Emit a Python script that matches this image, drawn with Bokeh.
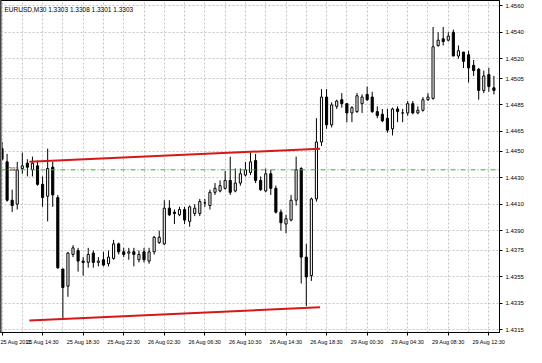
from bokeh.plotting import figure
from bokeh.models import FixedTicker, Span, Label, NumeralTickFormatter, Range1d, ColumnDataSource
from bokeh.embed import file_html
from bokeh.resources import INLINE

# ---------------- data (EURUSD M30) ----------------
open_ = [1.4452, 1.4442, 1.4413, 1.4410, 1.4437, 1.4441, 1.4436, 1.4439, 1.4425, 1.4416,
         1.4438, 1.4415, 1.4361, 1.4348, 1.4372, 1.4375, 1.4367, 1.4366, 1.4373, 1.4366,
         1.4368, 1.4365, 1.4369, 1.4380, 1.4374, 1.4373, 1.4374, 1.4368, 1.4374, 1.4367,
         1.4374, 1.4381, 1.4380, 1.4407, 1.4404, 1.4402, 1.4406, 1.4397, 1.4403, 1.4403,
         1.4411, 1.4409, 1.4419, 1.4420, 1.4422, 1.4428, 1.4420, 1.4426, 1.4432, 1.4434,
         1.4443, 1.4428, 1.4420, 1.4433, 1.4422, 1.4404, 1.4395, 1.4398, 1.4413, 1.4437,
         1.4370, 1.4356, 1.4414, 1.4457, 1.4491, 1.4470, 1.4484, 1.4489, 1.4486, 1.4479,
         1.4480, 1.4486, 1.4493, 1.4491, 1.4480, 1.4478, 1.4475, 1.4467, 1.4482, 1.4479,
         1.4479, 1.4486, 1.4479, 1.4481, 1.4489, 1.4490, 1.4530, 1.4535, 1.4534, 1.4540,
         1.4522, 1.4525, 1.4523, 1.4515, 1.4512, 1.4496, 1.4508, 1.4498]
high = [1.4457, 1.4448, 1.4421, 1.4442, 1.4449, 1.4444, 1.4446, 1.4443, 1.4431, 1.4452,
        1.4442, 1.4417, 1.4361, 1.4374, 1.4379, 1.4377, 1.4370, 1.4377, 1.4375, 1.4370,
        1.4374, 1.4375, 1.4383, 1.4381, 1.4377, 1.4377, 1.4377, 1.4375, 1.4377, 1.4377,
        1.4386, 1.4390, 1.4413, 1.4413, 1.4406, 1.4408, 1.4408, 1.4409, 1.4410, 1.4414,
        1.4414, 1.4421, 1.4426, 1.4428, 1.4435, 1.4446, 1.4437, 1.4437, 1.4442, 1.4449,
        1.4448, 1.4431, 1.4437, 1.4436, 1.4424, 1.4406, 1.4402, 1.4417, 1.4446, 1.4438,
        1.4380, 1.4415, 1.4475, 1.4497, 1.4497, 1.4487, 1.4489, 1.4494, 1.4486, 1.4484,
        1.4494, 1.4493, 1.4499, 1.4495, 1.4484, 1.4482, 1.4482, 1.4483, 1.4484, 1.4482,
        1.4488, 1.4488, 1.4484, 1.4491, 1.4494, 1.4544, 1.4540, 1.4544, 1.4540, 1.4542,
        1.4530, 1.4525, 1.4526, 1.4519, 1.4513, 1.4511, 1.4513, 1.4507]
low = [1.4443, 1.4412, 1.4404, 1.4406, 1.4433, 1.4431, 1.4431, 1.4424, 1.4408, 1.4397,
       1.4408, 1.4361, 1.4323, 1.4340, 1.4370, 1.4359, 1.4356, 1.4362, 1.4362, 1.4363,
       1.4363, 1.4363, 1.4368, 1.4372, 1.4370, 1.4368, 1.4363, 1.4366, 1.4366, 1.4365,
       1.4372, 1.4380, 1.4379, 1.4401, 1.4395, 1.4401, 1.4395, 1.4393, 1.4401, 1.4401,
       1.4408, 1.4406, 1.4417, 1.4419, 1.4421, 1.4417, 1.4419, 1.4424, 1.4431, 1.4432,
       1.4426, 1.4420, 1.4419, 1.4417, 1.4403, 1.4390, 1.4388, 1.4397, 1.4409, 1.4350,
       1.4333, 1.4352, 1.4412, 1.4454, 1.4467, 1.4468, 1.4482, 1.4483, 1.4472, 1.4472,
       1.4479, 1.4479, 1.4488, 1.4479, 1.4475, 1.4472, 1.4464, 1.4462, 1.4472, 1.4472,
       1.4477, 1.4478, 1.4478, 1.4480, 1.4488, 1.4489, 1.4529, 1.4530, 1.4533, 1.4522,
       1.4520, 1.4513, 1.4502, 1.4507, 1.4489, 1.4494, 1.4495, 1.4493]
close = [1.4444, 1.4413, 1.4409, 1.4436, 1.4439, 1.4438, 1.4441, 1.4425, 1.4415, 1.4437,
         1.4417, 1.4362, 1.4347, 1.4373, 1.4377, 1.4367, 1.4366, 1.4372, 1.4366, 1.4367,
         1.4364, 1.4370, 1.4380, 1.4374, 1.4372, 1.4374, 1.4372, 1.4372, 1.4368, 1.4374,
         1.4385, 1.4385, 1.4407, 1.4402, 1.4403, 1.4406, 1.4398, 1.4408, 1.4407, 1.4412,
         1.4411, 1.4419, 1.4422, 1.4424, 1.4428, 1.4419, 1.4426, 1.4433, 1.4436, 1.4442,
         1.4428, 1.4421, 1.4433, 1.4422, 1.4404, 1.4396, 1.4399, 1.4413, 1.4436, 1.4370,
         1.4355, 1.4414, 1.4457, 1.4491, 1.4470, 1.4485, 1.4488, 1.4486, 1.4479, 1.4483,
         1.4492, 1.4491, 1.4489, 1.4480, 1.4477, 1.4473, 1.4466, 1.4482, 1.4480, 1.4479,
         1.4486, 1.4479, 1.4481, 1.4489, 1.4491, 1.4529, 1.4534, 1.4533, 1.4537, 1.4522,
         1.4526, 1.4518, 1.4513, 1.4511, 1.4496, 1.4507, 1.4499, 1.4496]
bar_index = list(range(len(open_)))

x_tick_bars = [0, 8, 16, 24, 32, 40, 48, 56, 64, 72, 80, 88, 96]
x_tick_labels = ["25 Aug 2011", "25 Aug 14:30", "25 Aug 18:30", "25 Aug 22:30",
                 "26 Aug 02:30", "26 Aug 06:30", "26 Aug 10:30", "26 Aug 14:30",
                 "26 Aug 18:30", "29 Aug 00:30", "29 Aug 04:30", "29 Aug 08:30",
                 "29 Aug 12:30"]
grid_bars = [0, 4, 8, 12, 16, 20, 24, 28, 32, 36, 40, 44, 48, 52, 56, 60, 64, 68,
             72, 76, 80, 84, 88, 92, 96]
y_ticks = [1.4315, 1.4335, 1.4355, 1.4375, 1.4390, 1.4410, 1.4430, 1.4450,
           1.4465, 1.4485, 1.4505, 1.4520, 1.4540, 1.4560]

upper_line_x = [5.4, 62.7]
upper_line_y = [1.4442, 1.4452]
lower_line_x = [5.4, 62.7]
lower_line_y = [1.4322, 1.4332]
hline_level = 1.4436
title_text = "EURUSD,M30  1.3303 1.3308 1.3301 1.3303"
object_text = "392"

# ---------------- build ----------------
FONT = "Liberation Sans"
x_start, x_end = -0.3, 98.1
y_start, y_end = 1.4313, 1.4564

p = figure(width=526, height=347, x_range=Range1d(x_start, x_end),
           y_range=Range1d(y_start, y_end), y_axis_location="right",
           toolbar_location=None, output_backend="svg",
           min_border_left=0, min_border_right=0, min_border_top=0, min_border_bottom=0)
p.background_fill_color = "white"
p.border_fill_color = "white"
p.outline_line_color = "black"

# axes
p.xaxis.ticker = FixedTicker(ticks=x_tick_bars)
p.xaxis.major_label_overrides = {b: l for b, l in zip(x_tick_bars, x_tick_labels)}
p.xaxis.major_label_text_align = "left"
p.yaxis.ticker = FixedTicker(ticks=y_ticks)
p.yaxis.formatter = NumeralTickFormatter(format="0.0000")
for ax in (p.xaxis, p.yaxis):
    ax.major_label_text_font = FONT
    ax.major_label_text_color = "black"
    ax.axis_line_color = "black"
    ax.major_tick_line_color = "black"
    ax.major_tick_in = 0
    ax.major_tick_out = 3
    ax.minor_tick_line_color = None
    ax.major_label_standoff = 3
p.xaxis.major_label_text_font_size = "5.5px"
p.yaxis.major_label_text_font_size = "6px"

# grids
p.xgrid.ticker = FixedTicker(ticks=grid_bars)
for g in (p.xgrid, p.ygrid):
    g.grid_line_color = "#c4c4c4"
    g.grid_line_dash = "2 2"
    g.grid_line_width = 1

# left grey border strip
p.add_layout(Span(location=x_start, dimension="height", line_color="#8c8c8c", line_width=3))

# candles
up = [i for i in bar_index if close[i] >= open_[i]]
dn = [i for i in bar_index if close[i] < open_[i]]
wick_src = ColumnDataSource(dict(x=bar_index, h=high, l=low))
p.segment(x0="x", y0="h", x1="x", y1="l", source=wick_src, line_color="black", line_width=1)
up_src = ColumnDataSource(dict(x=up, top=[close[i] for i in up], bottom=[open_[i] for i in up]))
dn_src = ColumnDataSource(dict(x=dn, top=[open_[i] for i in dn], bottom=[close[i] for i in dn]))
p.vbar(x="x", width=0.42, top="top", bottom="bottom", source=up_src,
       fill_color="white", line_color="black", line_width=1)
p.vbar(x="x", width=0.42, top="top", bottom="bottom", source=dn_src,
       fill_color="black", line_color="black", line_width=1)

# horizontal dash-dot line
p.add_layout(Span(location=hline_level, dimension="width", line_color="#33b533",
                  line_width=1, line_dash="5 2 1 2"))

# trend lines
p.line(upper_line_x, upper_line_y, line_color="#d61818", line_width=2)
p.line(lower_line_x, lower_line_y, line_color="#d61818", line_width=2)

# texts
p.add_layout(Label(x=x_start, y=y_end, text=title_text, x_offset=4, y_offset=-5,
                   text_baseline="top", text_font=FONT, text_font_size="6.5px",
                   text_color="black"))
p.add_layout(Label(x=1.3, y=hline_level, text=object_text, y_offset=1,
                   text_baseline="middle", text_font=FONT, text_font_size="6px",
                   text_color="#555555"))

open("out.html", "w").write(file_html(p, INLINE))
